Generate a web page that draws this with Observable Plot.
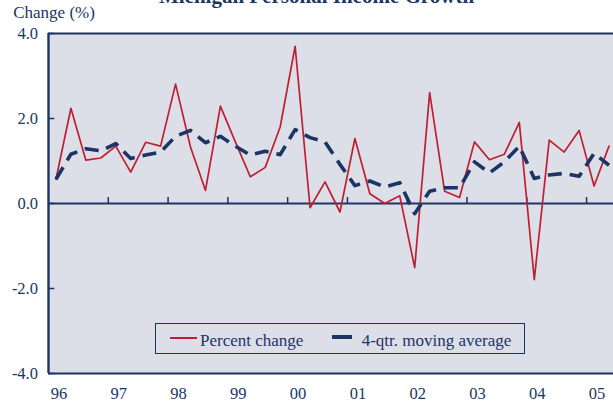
<!DOCTYPE html>
<html>
<head>
<meta charset="utf-8">
<script src="https://cdn.jsdelivr.net/npm/d3@7"></script>
<script src="https://cdn.jsdelivr.net/npm/@observablehq/plot@0.6"></script>
<style>
  html, body { margin: 0; padding: 0; background: white; overflow: hidden; }
  #wrap { position: relative; width: 613px; height: 408px; }
  #legend { position: absolute; left: 155px; top: 323px; width: 368px; height: 29px;
            border: 1px solid #1c3566; background: #dcdee8;
            font-family: "Liberation Serif", "Times New Roman", serif; font-size: 17px; color: #1c3566; }
  #legend .sw { position: absolute; }
  #legend .lbl { position: absolute; line-height: 17px; white-space: nowrap; }
</style>
</head>
<body>
<div id="wrap"></div>
<script>
const title = "Michigan Personal Income Growth";
const yAxisTitle = "Change (%)";
const years = ["96", "97", "98", "99", "00", "01", "02", "03", "04", "05"];
const quarters = [
  "96Q1","96Q2","96Q3","96Q4","97Q1","97Q2","97Q3","97Q4",
  "98Q1","98Q2","98Q3","98Q4","99Q1","99Q2","99Q3","99Q4",
  "00Q1","00Q2","00Q3","00Q4","01Q1","01Q2","01Q3","01Q4",
  "02Q1","02Q2","02Q3","02Q4","03Q1","03Q2","03Q3","03Q4",
  "04Q1","04Q2","04Q3","04Q4","05Q1","05Q2"
];
const percentChange = [
  0.57, 2.24, 1.02, 1.07, 1.35, 0.74, 1.44, 1.35,
  2.81, 1.33, 0.31, 2.29, 1.45, 0.63, 0.85, 1.80,
  3.70, -0.10, 0.51, -0.20, 1.53, 0.23, 0.00, 0.18,
  -1.51, 2.61, 0.29, 0.14, 1.45, 1.03, 1.16, 1.91,
  -1.79, 1.49, 1.21, 1.72, 0.41, 1.35
];
const movingAverage = [
  0.57, 1.16, 1.29, 1.24, 1.41, 1.06, 1.14, 1.21,
  1.58, 1.72, 1.43, 1.58, 1.35, 1.14, 1.23, 1.15,
  1.74, 1.55, 1.45, 0.92, 0.42, 0.53, 0.39, 0.49,
  -0.24, 0.29, 0.37, 0.37, 0.98, 0.72, 0.98, 1.35,
  0.59, 0.67, 0.71, 0.64, 1.18, 0.90
];
const yTicks = [-4, -2, 0, 2, 4];
const seriesNames = ["Percent change", "4-qtr. moving average"];

const red = "#c01f33";
const navy = "#1c3566";
const bg = "#dcdee8";
const font = "'Liberation Serif', 'Times New Roman', serif";

const data = quarters.map((q, i) => ({q, i, pct: percentChange[i], ma: movingAverage[i]}));
const xPos = d => d.i + 0.5;              // category centre
const yearBounds = years.slice(1).map((y, k) => (k + 1) * 4);  // year boundaries (quarter units)

const chart = Plot.plot({
  width: 613,
  height: 408,
  marginLeft: 48,
  marginRight: 0,
  marginTop: 33,
  marginBottom: 35,
  x: {domain: [0, 37.8], axis: null},
  y: {domain: [-4, 4], axis: null},
  style: {fontFamily: font, background: "white", color: navy},
  marks: [
    Plot.frame({fill: bg, stroke: null}),
    Plot.ruleY([4], {stroke: navy, strokeWidth: 1.8}),
    Plot.ruleY([-4], {stroke: navy, strokeWidth: 2.2}),
    Plot.ruleY([0], {stroke: navy, strokeWidth: 2}),
    Plot.ruleX(yearBounds, {y1: 0, y2: 0.14, stroke: navy, strokeWidth: 1.5}),
    Plot.ruleY(yTicks, {x1: 0, x2: 0.42, stroke: navy, strokeWidth: 1.5}),
    Plot.ruleX([0], {stroke: navy, strokeWidth: 2.4}),
    Plot.line(data, {x: xPos, y: "pct", stroke: red, strokeWidth: 1.7}),
    Plot.line(data, {x: xPos, y: "ma", stroke: navy, strokeWidth: 3.6, strokeDasharray: "14,8", strokeLinecap: "butt"}),
    Plot.text(yTicks, {y: d => d, frameAnchor: "left", dx: -10.5, textAnchor: "end",
      text: d => d.toFixed(1), fill: navy, fontSize: 16.5}),
    Plot.text(years, {x: (d, i) => i * 4 + 0.7, frameAnchor: "bottom", dy: 25.5,
      text: d => d, fill: navy, fontSize: 16.5}),
    Plot.text([yAxisTitle], {frameAnchor: "top-left", dx: -35.3, dy: -15.7, lineAnchor: "bottom",
      textAnchor: "start", text: d => d, fill: navy, fontSize: 17}),
    Plot.text([title], {frameAnchor: "top", dx: -14.5, dy: -31, lineAnchor: "bottom",
      text: d => d, fill: navy, fontSize: 21, fontWeight: "bold"})
  ]
});

const wrap = document.getElementById("wrap");
wrap.appendChild(chart);

const legend = document.createElement("div");
legend.id = "legend";
legend.innerHTML =
  `<span class="sw" style="left:14px;top:12.5px;width:27px;height:2px;background:${red}"></span>` +
  `<span class="lbl" style="left:44px;top:8px">${seriesNames[0]}</span>` +
  `<span class="sw" style="left:176px;top:11px;width:19.5px;height:3.6px;background:${navy}"></span>` +
  `<span class="lbl" style="left:205.7px;top:8px">${seriesNames[1]}</span>`;
wrap.appendChild(legend);
</script>
</body>
</html>
